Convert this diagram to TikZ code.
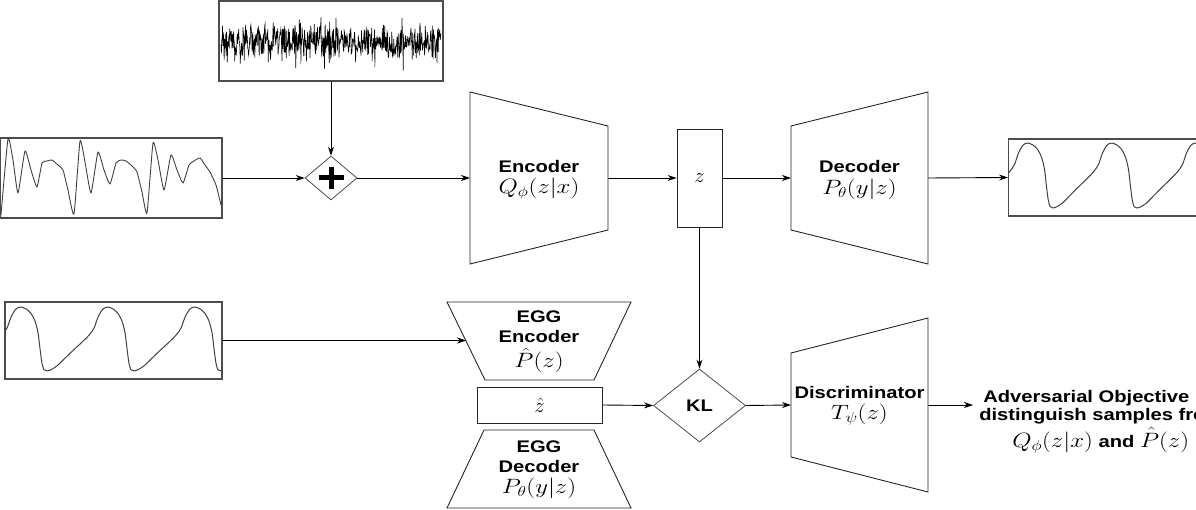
\documentclass[tikz,border=0pt]{standalone}
\usepackage{fontspec}
\setmainfont{Liberation Sans}
\usepackage{graphicx}
\usetikzlibrary{shapes.geometric,arrows.meta}
\newcommand{\mth}[1]{{\fontsize{19.5}{22}\selectfont$#1$}}
\newcommand{\eggseg}{\draw[wave] plot[smooth,tension=0.5] coordinates {(0,0) (5,0.03) (10,0.1) (14,0.22) (17,0.4) (19,0.65) (21,0.88) (23,0.98) (26,1.0) (30,0.98) (36,0.92) (44,0.8) (52,0.68) (61,0.55) (68,0.44) (73,0.33) (77,0.16) (81,0.05) (84,0.01) (87,0)};}
\begin{document}
\begin{tikzpicture}[x=1pt,y=-1pt,
  arr/.style={-{Stealth[length=9pt,width=6pt]}, line width=0.9pt, black},
  wbox/.style={draw=black!70, line width=1.4pt, inner sep=0pt},
  wave/.style={line width=1pt, draw=black!75, line join=round},
  trap/.style={draw=black!85, line width=0.9pt, line join=miter},
  lbl/.style={font=\fontsize{16.8}{19.5}\selectfont\bfseries, align=center, xscale=1.2, inner sep=0pt},
  dia/.style={diamond, draw=black!70, line width=0.8pt, inner sep=0pt},
  zbox/.style={draw=black!85, line width=0.9pt, inner sep=0pt}]

\useasboundingbox (0,0) rectangle (1196,510);
\clip (0,0) rectangle (1196,510);

% ---------- noise box ----------
\node[wbox, minimum width=224pt, minimum height=80pt] (noise) at (331,41) {};
\begin{scope}
  \clip (219,1) rectangle (443,81);
  \pgfmathsetseed{11}
  \draw[line width=0.6pt, black] plot[domain=221:441, samples=560] (\x, {42 + 14*rand + 30*rand*rand*rand});
\end{scope}

% ---------- ECG input box ----------
\node[wbox, minimum width=222pt, minimum height=80pt] (ecg) at (111,178) {};
\begin{scope}
  \clip (0,138) rectangle (222,218);
  \draw[wave, line width=0.9pt] plot[smooth, tension=0.3] coordinates {(1,215) (8,139) (13,160) (18,193) (25,151) (31,170) (37,187) (42,163) (47,161) (52,160) (58,165) (63,170) (68,190) (74,214) (80,141) (85,162) (91,193) (98,152) (104,170) (110,184) (116,163) (121,160) (126,161) (132,166) (137,172) (142,192) (147,213) (153,143) (158,160) (164,190) (171,155) (177,170) (183,183) (189,165) (194,161) (200,158) (205,165) (210,172) (216,185) (221,205)};
\end{scope}

% ---------- plus ----------
\node[dia, minimum width=52pt, minimum height=44pt] (plus) at (331,178) {};
\draw[line width=5pt] ([xshift=-12.5pt]plus.center) -- ([xshift=12.5pt]plus.center);
\draw[line width=5pt] ([yshift=-11pt]plus.center) -- ([yshift=11pt]plus.center);
\draw[arr] (ecg.east) -- (plus.west);
\draw[arr] (noise.south) -- (plus.north);

% ---------- encoder ----------
\draw[trap] (470,92) -- (608,126) -- (608,230) -- (470,264) -- cycle;
\coordinate (encW) at (470,178);
\coordinate (encE) at (608,178);
\node[lbl] (enctxt) at (539,180) {Encoder\\[2pt]\mth{Q_\phi(z|x)}};
\draw[arr] (plus.east) -- (encW);

% ---------- z ----------
\node[zbox, minimum width=45pt, minimum height=98pt] (z) at (699.5,178) {\mth{z}};
\draw[arr] (encE) -- (z.west);

% ---------- decoder ----------
\draw[trap] (791,126) -- (928,92) -- (928,264) -- (791,230) -- cycle;
\coordinate (decW) at (791,178);
\coordinate (decE) at (928,178);
\node[lbl] (dectxt) at (859.5,180) {Decoder\\[2pt]\mth{P_\theta(y|z)}};
\draw[arr] (z.east) -- (decW);

% ---------- output box ----------
\node[wbox, minimum width=200pt, minimum height=77pt, anchor=west] (out) at (1008,177.5) {};
\begin{scope}
  \clip (1008,139) rectangle (1208,216);
  \foreach \p in {944,1028,1112,1196}{
    \begin{scope}[shift={(\p,143)}, xscale=0.9655, yscale=65]
      \eggseg
    \end{scope}
  }
\end{scope}
\draw[arr] (decE) -- (out.west);

% ---------- EGG input box ----------
\node[wbox, minimum width=217pt, minimum height=77pt] (egg) at (113.5,340.5) {};
\begin{scope}
  \clip (5,302) rectangle (222,379);
  \foreach \p in {-66,21,108,195}{
    \begin{scope}[shift={(\p,307)}, yscale=64]
      \eggseg
    \end{scope}
  }
\end{scope}

% ---------- EGG encoder ----------
\draw[trap] (447,302) -- (631,302) -- (594,380) -- (485,380) -- cycle;
\coordinate (eggencW) at (466,340.5);
\node[lbl] (eggenctxt) at (539,342) {EGG\\Encoder\\[5pt]\mth{\hat P(z)}};
\draw[arr] (egg.east) -- (eggencW);

% ---------- z hat ----------
\node[zbox, minimum width=125pt, minimum height=36pt] (zh) at (539.5,405) {\mth{\hat z}};

% ---------- EGG decoder ----------
\draw[trap] (484,430) -- (594,430) -- (631,508) -- (447,508) -- cycle;
\node[lbl] (eggdectxt) at (539,470) {EGG\\Decoder\\[2pt]\mth{P_\theta(y|z)}};

% ---------- KL ----------
\node[dia, minimum width=92pt, minimum height=73pt, font=\fontsize{16.8}{19.5}\selectfont\bfseries] (kl) at (699.5,405.5) {\scalebox{1.2}[1]{KL}};
\draw[arr] (z.south) -- (kl.north);
\draw[arr] (zh.east) -- (kl.west);

% ---------- discriminator ----------
\draw[trap] (791,353) -- (928,318) -- (928,492) -- (791,457) -- cycle;
\coordinate (discW) at (791,405);
\coordinate (discE) at (928,405);
\node[lbl] (disctxt) at (859.5,406) {Discriminator\\[2pt]\mth{T_\psi(z)}};
\draw[arr] (kl.east) -- (discW);

% ---------- objective text ----------
\node[lbl, anchor=base west] (adv1) at (983,402) {Adversarial Objective};
\node[lbl, anchor=base west] (adv2) at (979,420) {distinguish samples from};
\node[lbl, anchor=base west] (adv3) at (1012,447) {\mth{Q_\phi(z|x)} and \mth{\hat P(z)}};
\coordinate (advW) at (973,405);
\draw[arr] (discE) -- (advW);
\end{tikzpicture}
\end{document}
